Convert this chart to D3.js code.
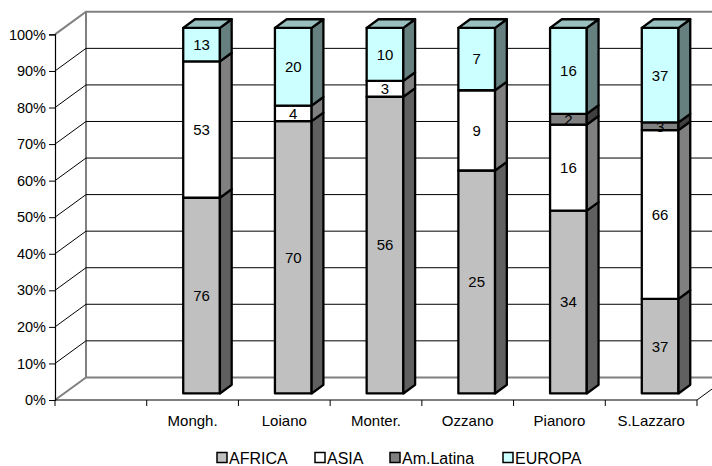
<!DOCTYPE html>
<html>
<head>
<meta charset="utf-8">
<script src="https://cdn.jsdelivr.net/npm/d3@7/dist/d3.min.js"></script>
<style>
  html, body { margin: 0; padding: 0; background: #fff; }
  svg { display: block; font-family: "Liberation Sans", Arial, sans-serif; }
</style>
</head>
<body>
<svg id="chart" width="712" height="466"></svg>
<script>
// Municipalities (an unnamed leading slot sits before them on the category axis)
const categories = ["Mongh.", "Loiano", "Monter.", "Ozzano", "Pianoro", "S.Lazzaro"];
const seriesNames = ["AFRICA", "ASIA", "Am.Latina", "EUROPA"];
const africa   = [76, 70, 56, 25, 34, 37];
const asia     = [53, 4, 3, 9, 16, 66];
const amLatina = [0, 0, 0, 0, 2, 3];
const europa   = [13, 20, 10, 7, 16, 37];
const yTicks = [0, 0.1, 0.2, 0.3, 0.4, 0.5, 0.6, 0.7, 0.8, 0.9, 1];

const seriesValues = [africa, asia, amLatina, europa];
const frontColors = ["#c0c0c0", "#ffffff", "#808080", "#ccffff"];
const sideColors  = ["#606060", "#808080", "#404040", "#668080"];
const topColors   = ["#909090", "#c0c0c0", "#606060", "#99bfbf"];

const svg = d3.select("#chart");

// Oblique projection: depth z in [0,1] shifts right and up
const DX = 31, DY = 22.6;
const slots = [""].concat(categories);
const x = d3.scaleBand().domain(slots).range([55, 697]).paddingInner(0).paddingOuter(0);
const y = d3.scaleLinear().domain([0, 1]).range([400, 34.4]);
const P = (px, v, z) => [px + z * DX, y(v) - z * DY];
const line = d3.line();

// Walls and floor
const walls = svg.append("g");
const backRight = 760;
walls.append("path").attr("d", line([[55, y(0)], [55 + DX, y(0) - DY], [backRight, y(0) - DY]]))
  .attr("fill", "none").attr("stroke", "#808080").attr("stroke-width", 2);
walls.append("path").attr("d", line([[55, y(1)], [55 + DX, y(1) - DY], [backRight, y(1) - DY]]))
  .attr("fill", "none").attr("stroke", "#808080").attr("stroke-width", 2);
walls.append("path").attr("d", line([[55 + DX, y(1) - DY], [55 + DX, y(0) - DY]]))
  .attr("fill", "none").attr("stroke", "#808080").attr("stroke-width", 2);

// Gridlines on back wall and diagonals on side wall
yTicks.filter(t => t > 0 && t < 1).forEach(t => {
  walls.append("path").attr("d", line([[55, y(t)], [55 + DX, y(t) - DY], [backRight, y(t) - DY]]))
    .attr("fill", "none").attr("stroke", "#000").attr("stroke-width", 1);
});

// Front floor edge and right diagonal
walls.append("path").attr("d", line([[55, y(0)], [697, y(0)], [697 + DX, y(0) - DY]]))
  .attr("fill", "none").attr("stroke", "#000").attr("stroke-width", 1);

// Value axis
const yAxis = d3.axisLeft(y).tickValues(yTicks).tickFormat(d3.format(".0%")).tickSize(6).tickPadding(3);
const yg = svg.append("g").attr("transform", "translate(55,0)").call(yAxis);
yg.select(".domain").attr("stroke", "#000").attr("stroke-width", 1.2);
yg.selectAll(".tick line").attr("stroke", "#000");
yg.selectAll(".tick text").attr("font-size", "14.5px").attr("fill", "#000")
  .attr("font-family", "Liberation Sans, Arial, sans-serif");

// Category axis
const xAxis = d3.axisBottom(x).tickSize(0).tickPadding(15);
const xg = svg.append("g").attr("transform", `translate(0,${y(0)})`).call(xAxis);
xg.select(".domain").remove();
xg.selectAll(".tick text").attr("font-size", "15px").attr("fill", "#000")
  .attr("font-family", "Liberation Sans, Arial, sans-serif");
// tick marks on slot boundaries
const boundaries = slots.map(s => x(s)).concat([x(slots[slots.length - 1]) + x.bandwidth()]);
svg.append("g").selectAll("line").data(boundaries).join("line")
  .attr("x1", d => d).attr("x2", d => d)
  .attr("y1", y(0)).attr("y2", y(0) + 6)
  .attr("stroke", "#000").attr("stroke-width", 1);

// Stacked 3D columns
const zf = 0.29, zb = 0.67;
const barW = x.bandwidth() * 0.4;
const bars = svg.append("g");
categories.forEach((cat, i) => {
  const total = d3.sum(seriesValues, s => s[i]);
  const cx = x(cat) + x.bandwidth() / 2;
  const xl = cx - barW / 2, xr = cx + barW / 2;
  const g = bars.append("g");
  let acc = 0;
  let lastTop = null;
  seriesValues.forEach((s, k) => {
    const val = s[i];
    if (!val) return;
    const v0 = acc / total, v1 = (acc + val) / total;
    acc += val;
    g.append("path")
      .attr("d", line([P(xl, v0, zf), P(xr, v0, zf), P(xr, v1, zf), P(xl, v1, zf)]) + "Z")
      .attr("fill", frontColors[k]).attr("stroke", "#000").attr("stroke-width", 2.3)
      .attr("stroke-linejoin", "round");
    g.append("path")
      .attr("d", line([P(xr, v0, zf), P(xr, v0, zb), P(xr, v1, zb), P(xr, v1, zf)]) + "Z")
      .attr("fill", sideColors[k]).attr("stroke", "#000").attr("stroke-width", 2.3)
      .attr("stroke-linejoin", "round");
    const lp = P(cx, (v0 + v1) / 2, zf);
    g.append("text").attr("x", lp[0]).attr("y", lp[1]).attr("dy", "0.36em")
      .attr("text-anchor", "middle").attr("font-size", "15px").attr("fill", "#000")
      .text(val);
    lastTop = { v: v1, k };
  });
  if (lastTop) {
    g.append("path")
      .attr("d", line([P(xl, lastTop.v, zf), P(xr, lastTop.v, zf), P(xr, lastTop.v, zb), P(xl, lastTop.v, zb)]) + "Z")
      .attr("fill", topColors[lastTop.k]).attr("stroke", "#000").attr("stroke-width", 2.3)
      .attr("stroke-linejoin", "round");
  }
});

// Legend
const legendX = [217, 315, 390, 503];
const legend = svg.append("g");
seriesNames.forEach((name, k) => {
  legend.append("rect").attr("x", legendX[k]).attr("y", 452.5).attr("width", 10).attr("height", 10)
    .attr("fill", frontColors[k]).attr("stroke", "#000").attr("stroke-width", 1.5);
  legend.append("text").attr("x", legendX[k] + 12).attr("y", 463.5)
    .attr("font-size", "16px").attr("fill", "#000").text(name);
});
</script>
</body>
</html>
